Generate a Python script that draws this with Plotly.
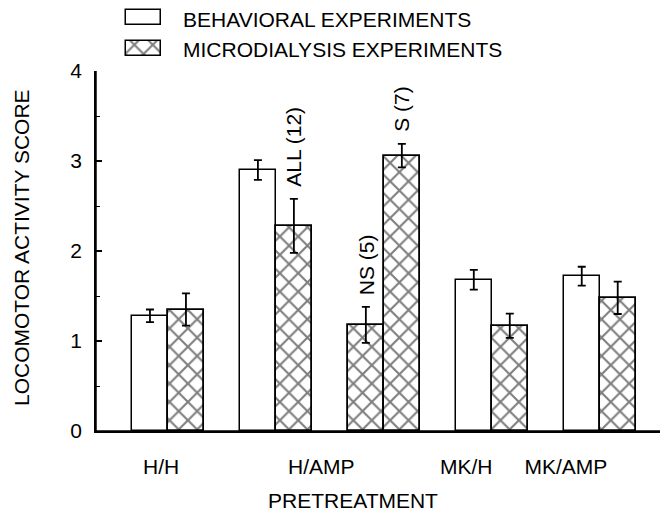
import plotly.graph_objects as go

# ---- data ----
groups = ["H/H", "H/AMP", "MK/H", "MK/AMP"]
behav_mean = [1.28, 2.90, 1.68, 1.72]
behav_err = [0.07, 0.11, 0.11, 0.105]

micro_labels = ["H/H", "H/AMP ALL (12)", "H/AMP NS (5)", "H/AMP S (7)", "MK/H", "MK/AMP"]
micro_mean = [1.35, 2.28, 1.18, 3.06, 1.17, 1.48]
micro_err = [0.18, 0.30, 0.20, 0.13, 0.135, 0.18]

sub_text = ["ALL (12)", "NS (5)", "S (7)"]
sub_index = [1, 2, 3]

series_names = ["BEHAVIORAL EXPERIMENTS", "MICRODIALYSIS EXPERIMENTS"]

# ---- layout positions (bar slots, 1 unit = one bar width) ----
behav_x = [1.5, 4.5, 10.5, 13.5]
micro_x = [2.5, 5.5, 7.5, 8.5, 11.5, 14.5]
group_label_x = [1.81, 6.26, 10.29, 13.06]

FONT = "Liberation Sans, Arial, sans-serif"
FS = 21
OFF = 8                     # page body margin
W, H = 669 - 2 * OFF, 520 - 2 * OFF


def fx(px):  # page pixel -> paper x
    return (px - OFF) / W


def fy(py):  # page pixel -> paper y
    return (H - (py - OFF)) / H


px_l, px_r, px_t, px_b = 96, 660, 71, 431

hatch = dict(shape="x", fgcolor="black", bgcolor="white", size=13, solidity=0.3)

fig = go.Figure()
fig.add_trace(go.Bar(
    x=behav_x, y=behav_mean, width=1.0, name=series_names[0],
    marker=dict(color="white", line=dict(color="black", width=1.5)),
    error_y=dict(type="data", array=behav_err, color="black", thickness=1.8, width=4),
    showlegend=False,
))
fig.add_trace(go.Bar(
    x=micro_x, y=micro_mean, width=1.0, name=series_names[1],
    marker=dict(color="white", line=dict(color="black", width=1.8), pattern=hatch),
    error_y=dict(type="data", array=micro_err, color="black", thickness=1.8, width=4),
    showlegend=False,
))

# legend key: small inset of horizontal bars (row 1 = behavioral, row 0 = microdialysis)
fig.add_trace(go.Bar(
    y=[1], x=[1], orientation="h", width=0.473, xaxis="x2", yaxis="y2",
    marker=dict(color="white", line=dict(color="black", width=1.5)), showlegend=False,
    hoverinfo="skip", cliponaxis=False,
))
fig.add_trace(go.Bar(
    y=[0], x=[1], orientation="h", width=0.473, xaxis="x2", yaxis="y2",
    marker=dict(color="white", line=dict(color="black", width=1.5), pattern=hatch), showlegend=False,
    hoverinfo="skip", cliponaxis=False,
))

annotations = []
for t, i in zip(sub_text, sub_index):
    annotations.append(dict(
        x=micro_x[i], y=micro_mean[i] + micro_err[i], xref="x", yref="y",
        text=t, textangle=-90, showarrow=False, xanchor="center", yanchor="bottom",
        yshift=10, font=dict(family=FONT, size=FS, color="black"),
    ))

# legend labels
annotations.append(dict(
    x=fx(183), y=1, xref="paper", yref="paper", text=series_names[0],
    showarrow=False, xanchor="left", yanchor="top", borderpad=0, borderwidth=0,
    font=dict(family=FONT, size=FS, color="black"),
))
annotations.append(dict(
    x=fx(183), y=fy(49), xref="paper", yref="paper", text=series_names[1],
    showarrow=False, xanchor="left", yanchor="middle", borderpad=0, borderwidth=0,
    font=dict(family=FONT, size=FS, color="black"),
))

annotations.append(dict(
    x=fx(21), y=fy(248), xref="paper", yref="paper", text="LOCOMOTOR ACTIVITY SCORE",
    textangle=-90, showarrow=False, xanchor="center", yanchor="middle",
    font=dict(family=FONT, size=FS, color="black"),
))
annotations.append(dict(
    x=fx(352.5), y=fy(500), xref="paper", yref="paper", text="PRETREATMENT",
    showarrow=False, xanchor="center", yanchor="middle", borderpad=0, borderwidth=0,
    font=dict(family=FONT, size=FS, color="black"),
))

axis_frame = [
    dict(type="line", xref="x domain", yref="y domain", x0=0, x1=1, y0=0, y1=0,
         line=dict(color="black", width=1.5)),
    dict(type="line", xref="x domain", yref="y domain", x0=0, x1=0, y0=0, y1=1,
         line=dict(color="black", width=1.5)),
]

# inset geometry: key box is 35 px wide (x 0..1), rows 31.7 px apart
fig.update_layout(
    width=W, height=H,
    margin=dict(l=0, r=0, t=0, b=0),
    paper_bgcolor="white", plot_bgcolor="white",
    font=dict(family=FONT, size=FS, color="black"),
    bargap=0, barmode="overlay",
    annotations=annotations,
    shapes=axis_frame,
    xaxis=dict(
        domain=[fx(px_l), fx(px_r)], range=[0, 15.675],
        showline=True, linecolor="black", linewidth=1.5,
        ticks="", tickvals=group_label_x, ticktext=groups,
        showgrid=False, zeroline=False, ticklabelstandoff=16,
        automargin=False,
    ),
    yaxis=dict(
        domain=[fy(px_b), fy(px_t)], range=[0, 4],
        showline=True, linecolor="black", linewidth=1.5,
        ticks="inside", ticklen=6, tickwidth=1.5, tickcolor="black",
        tickvals=[0, 1, 2, 3, 4],
        minor=dict(ticks="inside", ticklen=4, tickwidth=1, tickcolor="black", dtick=0.5, showgrid=False),
        showgrid=False, zeroline=False, ticklabelstandoff=8,
        automargin=False,
    ),
    xaxis2=dict(
        domain=[fx(116), fx(171)], range=[-10 / 35, 1 + 10 / 35], visible=False, anchor="y2",
    ),
    yaxis2=dict(
        domain=[fy(58), fy(8)], range=[-(58 - 48.85) / 31.7, 1 + (17.5 - 8) / 31.7],
        anchor="x2", visible=False,
    ),
)

fig.write_html("out.html")
